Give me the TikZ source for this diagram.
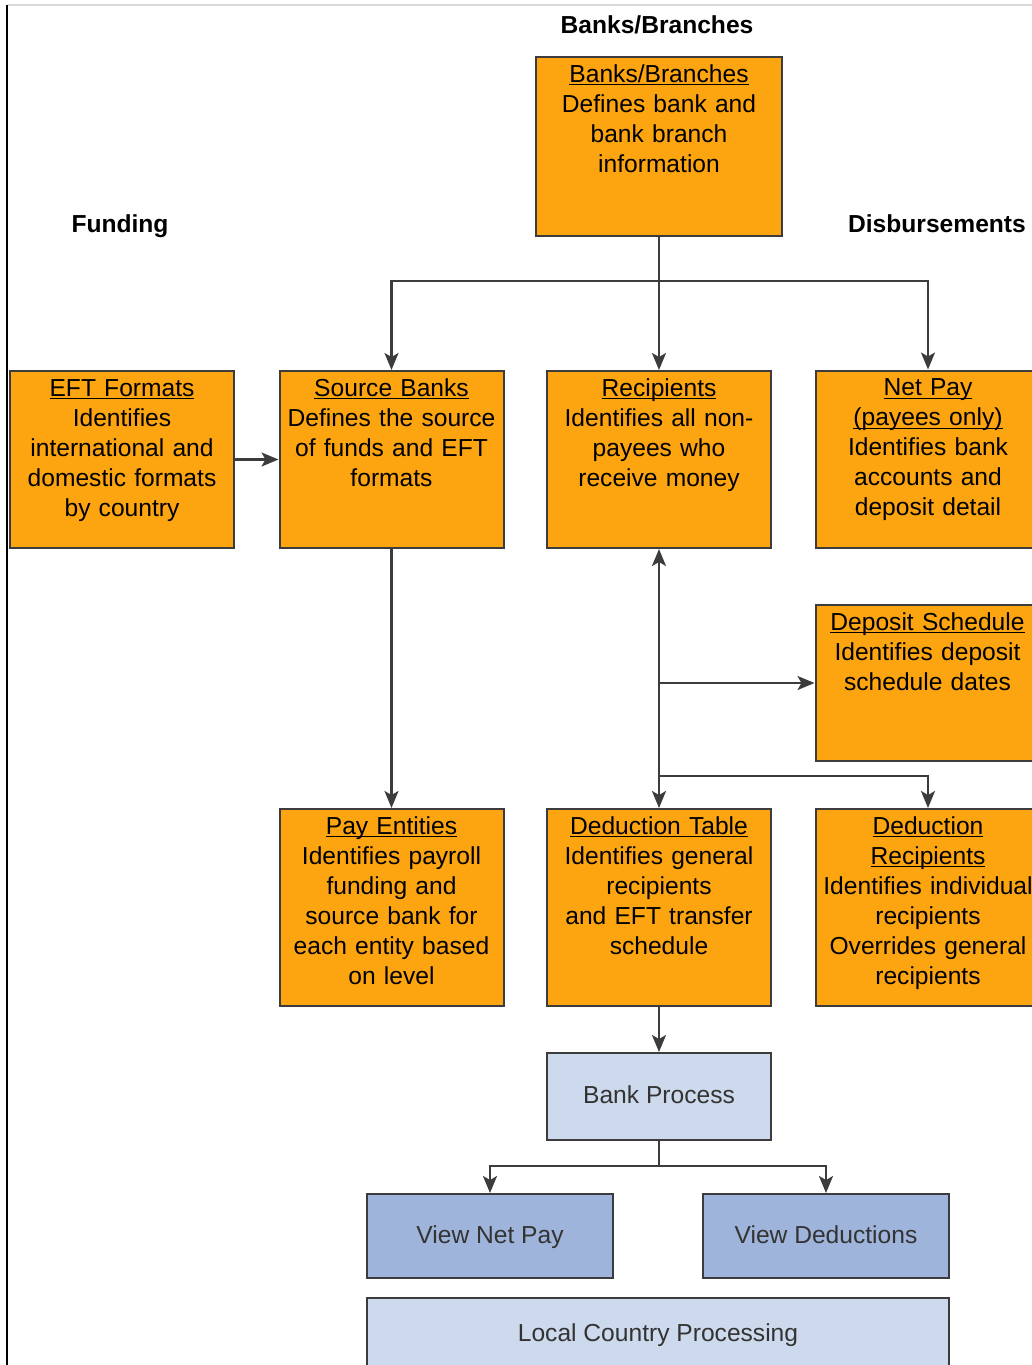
\documentclass[tikz,border=0pt]{standalone}
\usepackage{fontspec}
\setmainfont{Liberation Sans}
\usetikzlibrary{arrows.meta}
\definecolor{amber}{HTML}{FDA511}
\definecolor{edge}{HTML}{3C3C3C}
\definecolor{paleblue}{HTML}{CDD9EC}
\definecolor{midblue}{HTML}{9EB4DA}
\newcommand\uln[1]{\underline{\smash{#1}}}
\begin{document}
\begin{tikzpicture}[x=0.5pt,y=-0.5pt,
  every node/.style={font=\fontsize{12.3}{15}\selectfont},
  card/.style={draw=edge,fill=amber,line width=1pt,inner sep=0pt,align=center,
    minimum width=112pt,text width=110pt,text height=12.5pt,text depth=#1},
  tile/.style={draw=edge,fill=#1,line width=1pt,text=black!80,minimum width=123pt,minimum height=42pt,
    text height=0.85em,text depth=0.12em},
  head/.style={font=\fontsize{12.3}{15}\selectfont\bfseries},
  tip/.tip={Stealth[length=8.5pt,width=7pt,inset=2pt]},
  flow/.style={draw=edge,line width=1.1pt,-tip}]
  \useasboundingbox (0,0) rectangle (1032,1365);
  \clip (0,0) rectangle (1032,1365);
  \draw[black!15,line width=0.8pt] (7,5) -- (1032,5);
  \draw[black,line width=1pt] (7,5) -- (7,1365);
  % headings
  \node[head] (hbank) at (657,25) {Banks/Branches};
  \node[head] (hfund) at (120,226) {Funding};
  \node[head] (hdisb) at (937,224) {Disbursements};
  % orange cards
  \node[card=77pt,minimum width=123pt] (banks) at (659,146.5) {\uln{Banks/Branches}\\Defines bank and\\bank branch\\information};
  \node[card=76pt] (eft) at (122,459.5) {\uln{EFT Formats}\\Identifies\\international and\\domestic formats\\by country};
  \node[card=76pt] (src) at (391.5,459.5) {\uln{Source Banks}\\Defines the source\\of funds and EFT\\formats};
  \node[card=76pt] (rcp) at (659,459.5) {\uln{Recipients}\\Identifies all non-\\payees who\\receive money};
  \node[card=76pt] (net) at (928,459) {\uln{Net Pay}\\\uln{(payees only)}\\Identifies bank\\accounts and\\deposit detail};
  \node[card=65.5pt] (dep) at (927.5,683) {\uln{Deposit Schedule}\\Identifies deposit\\schedule dates};
  \node[card=86pt] (pay) at (391.5,907.5) {\uln{Pay Entities}\\Identifies payroll\\funding and\\source bank for\\each entity based\\on level};
  \node[card=86pt] (ded) at (659,907.5) {\uln{Deduction Table}\\Identifies general\\recipients\\and EFT transfer\\schedule};
  \node[card=86pt] (drc) at (928,907.5) {\uln{Deduction}\\\uln{Recipients}\\Identifies individual\\recipients\\Overrides general\\recipients};
  % blue tiles
  \node[tile=paleblue,minimum width=112pt,minimum height=43.5pt] (bproc) at (659,1096.5) {Bank Process};
  \node[tile=midblue] (vnet) at (490,1236) {View Net Pay};
  \node[tile=midblue] (vded) at (826,1236) {View Deductions};
  \node[tile=paleblue,minimum width=291pt,minimum height=36pt] (local) at (658,1334) {Local Country Processing};
  % connectors
  \draw[flow] (banks) -- (rcp);
  \draw[flow] (banks.south) -- ++(0,44) -| (src.north);
  \draw[flow] (banks.south) -- ++(0,44) -| (net.north);
  \draw[flow] (eft) -- (src);
  \draw[flow] (src) -- (pay);
  \draw[flow,tip-tip] (ded) -- (rcp);
  \draw[flow] (ded.north |- dep.west) -- (dep.west);
  \draw[flow] (ded.north) ++(0,-32) -| (drc.north);
  \draw[flow] (ded) -- (bproc);
  \draw[flow] (bproc.south) -- ++(0,25) -| (vnet.north);
  \draw[flow] (bproc.south) -- ++(0,25) -| (vded.north);
\end{tikzpicture}
\end{document}
